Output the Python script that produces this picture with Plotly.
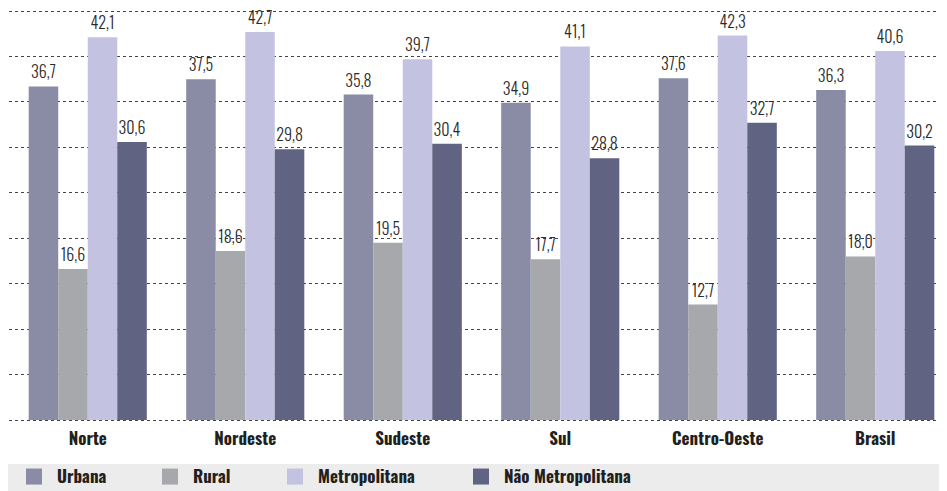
import plotly.graph_objects as go

categories = ["Norte", "Nordeste", "Sudeste", "Sul", "Centro-Oeste", "Brasil"]
series_names = ["Urbana", "Rural", "Metropolitana", "Não Metropolitana"]
urbana = [36.7, 37.5, 35.8, 34.9, 37.6, 36.3]
rural = [16.6, 18.6, 19.5, 17.7, 12.7, 18.0]
metropolitana = [42.1, 42.7, 39.7, 41.1, 42.3, 40.6]
nao_metropolitana = [30.6, 29.8, 30.4, 28.8, 32.7, 30.2]
colors = ["#8a8ca6", "#a7a8ab", "#c3c3e1", "#606382"]

series_values = [urbana, rural, metropolitana, nao_metropolitana]

FONT = "Oswald, Roboto Condensed, sans-serif"

W, H = 939, 483  # page body has an 8px margin inside the 947x491 window
T, B = 0, 67
PLOT_H = H - T - B
legend_ids = ["legend", "legend2", "legend3", "legend4"]
legend_x_px = [3, 139, 264, 450]

fig = go.Figure()
for name, vals, col in zip(series_names, series_values, colors):
    fig.add_trace(go.Bar(
        x=categories, y=vals, name=name, marker=dict(color=col, line=dict(width=0)),
        text=[f"{v:.1f}".replace(".", ",") for v in vals],
        textposition="outside", cliponaxis=False,
        textfont=dict(family=FONT, size=16, color="#2a2a2a", weight=300),
        showlegend=False, hoverinfo="skip",
    ))
# legend entries with larger square markers
for name, col, lid in zip(series_names, colors, legend_ids):
    fig.add_trace(go.Scatter(
        x=[None], y=[None], mode="markers", name=name, legend=lid,
        marker=dict(symbol="square", size=19, color=col),
        showlegend=True,
    ))

legend_common = dict(
    orientation="h", xref="container", xanchor="left",
    y=14 / H, yref="container", yanchor="middle", itemwidth=36,
    font=dict(family=FONT, size=17, color="#231f20", weight="bold"),
    bgcolor="rgba(0,0,0,0)", itemclick=False, itemdoubleclick=False,
)
legend_layout = {lid: dict(legend_common, x=px / W) for lid, px in zip(legend_ids, legend_x_px)}

fig.update_layout(
    width=W, height=H,
    margin=dict(l=1, r=0, t=T, b=B),
    paper_bgcolor="white", plot_bgcolor="white",
    barmode="group", bargap=0.25, bargroupgap=0,
    xaxis=dict(
        range=[-0.5, 5.4556], showgrid=False, zeroline=False, showline=False,
        ticks="", ticklabelstandoff=3,
        tickfont=dict(family=FONT, size=17, color="#231f20", weight="bold"),
    ),
    yaxis=dict(
        range=[-0.44, 45.33], dtick=5, tick0=0, showgrid=True, gridcolor="#444444", griddash="dot",
        gridwidth=1, zeroline=False, showticklabels=False, ticks="",
    ),
    shapes=[dict(
        type="rect", xref="paper", yref="paper", layer="below",
        x0=-1 / 938, x1=1.0, y0=-B / PLOT_H, y1=-40 / PLOT_H,
        fillcolor="#ececec", line=dict(width=0),
    )],
    showlegend=True,
    **legend_layout,
)

fig.write_html("out.html")
